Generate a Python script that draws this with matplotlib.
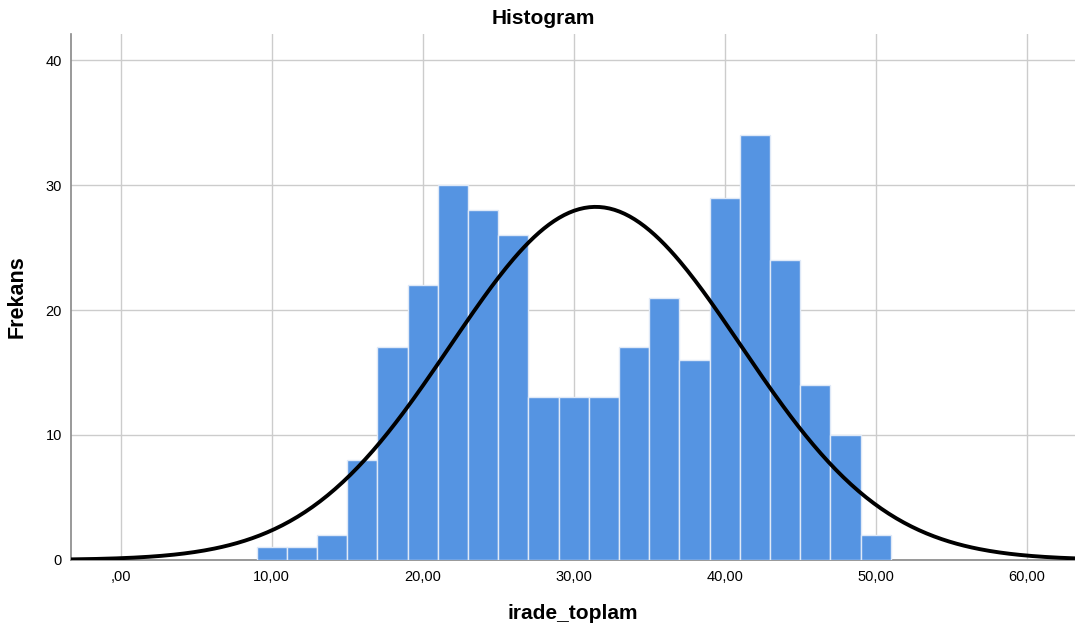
import numpy as np
import matplotlib.pyplot as plt

# bin edges (width 2) and counts
bin_left = [9, 11, 13, 15, 17, 19, 21, 23, 25, 27, 29,
            31, 33, 35, 37, 39, 41, 43, 45, 47, 49]
counts = [1, 1, 2, 8, 17, 22, 30, 28, 26, 13, 13,
          13, 17, 21, 16, 29, 34, 24, 14, 10, 2]
bin_width = 2

# normal curve parameters
mean_val = 31.45
sd_val = 9.63
n_total = sum(counts)

xticks = [0, 10, 20, 30, 40, 50, 60]
xtick_labels = [',00', '10,00', '20,00', '30,00', '40,00', '50,00', '60,00']
yticks = [0, 10, 20, 30, 40]

plt.rcParams['font.family'] = ['Liberation Sans', 'DejaVu Sans']

fig = plt.figure(figsize=(10.75, 6.27), dpi=100)
ax = fig.add_axes([0.066, 0.107, 0.934, 0.839])

ax.bar(bin_left, counts, width=bin_width, align='edge',
       color='#5594e2', edgecolor='#dfe9f7', linewidth=1.0, zorder=3)

xs = np.linspace(-3.3, 63.2, 400)
ys = n_total * bin_width / (sd_val * np.sqrt(2 * np.pi)) * np.exp(-0.5 * ((xs - mean_val) / sd_val) ** 2)
ax.plot(xs, ys, color='black', linewidth=2.8, zorder=4, solid_capstyle='butt')

ax.set_xlim(-3.3, 63.2)
ax.set_ylim(0, 42.1)
ax.set_xticks(xticks)
ax.set_xticklabels(xtick_labels)
ax.set_yticks(yticks)
ax.tick_params(axis='both', length=0, labelsize=10.5)
ax.tick_params(axis='x', pad=7)
ax.tick_params(axis='y', pad=6.5)
ax.grid(True, color='#cccccc', linewidth=1.0, zorder=0)
ax.set_axisbelow(True)

for s in ['top', 'right']:
    ax.spines[s].set_visible(False)
for s in ['left', 'bottom']:
    ax.spines[s].set_color('#888888')
    ax.spines[s].set_linewidth(1.2)

ax.set_title('Histogram', fontsize=15, fontweight='bold', pad=7, x=0.47)
ax.set_xlabel('irade_toplam', fontsize=15, fontweight='bold')
ax.set_ylabel('Frekans', fontsize=15.5, fontweight='bold')
ax.xaxis.set_label_coords(0.5, -0.083)
ax.yaxis.set_label_coords(-0.043, 0.5)

fig.savefig('out.png', dpi=100)
